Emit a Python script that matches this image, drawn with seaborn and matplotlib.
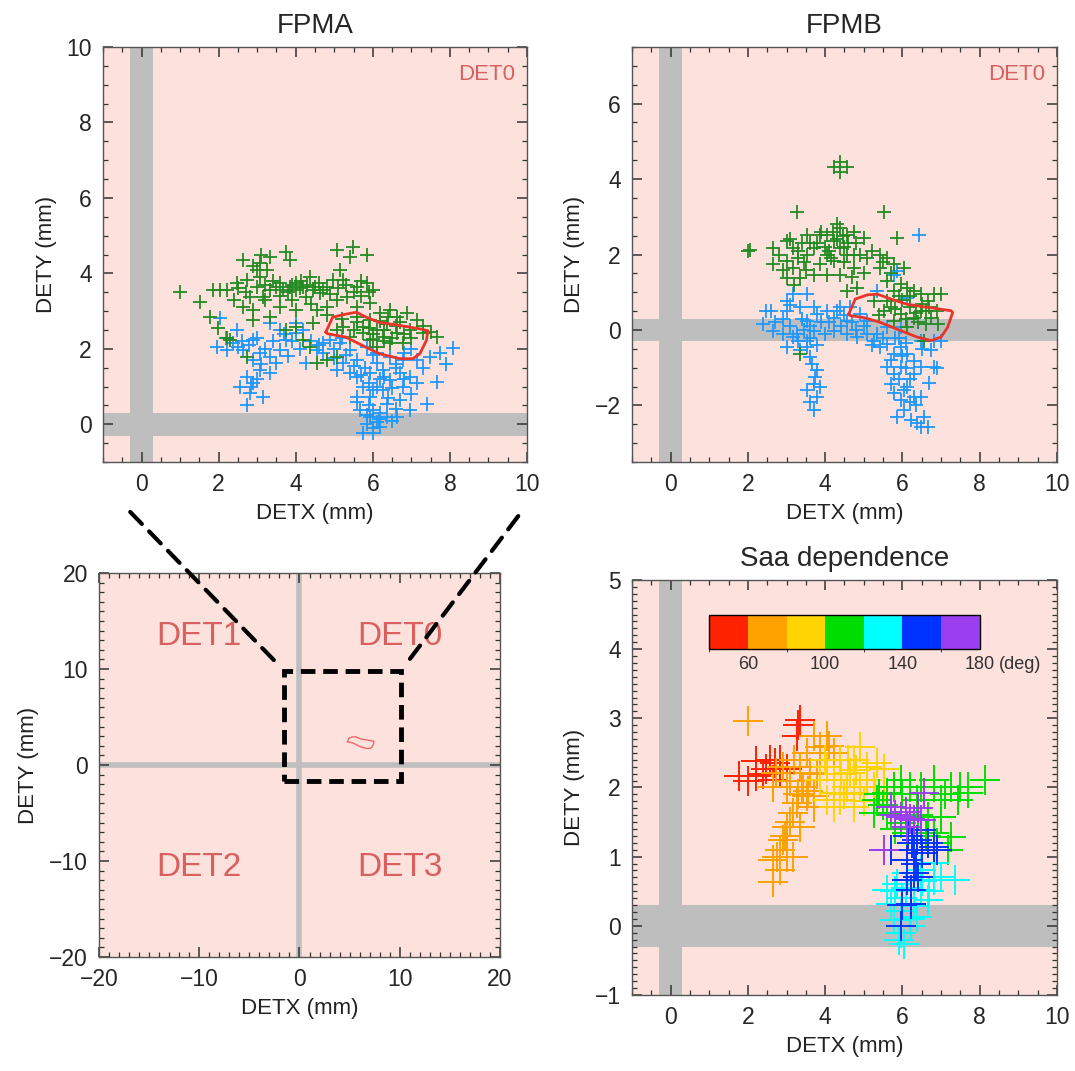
import numpy as np
import pandas as pd
import matplotlib.pyplot as plt
import seaborn as sns
from matplotlib.patches import Rectangle, ConnectionPatch
from matplotlib.colors import ListedColormap, BoundaryNorm
from matplotlib.cm import ScalarMappable
from matplotlib.ticker import MultipleLocator

# ---- data ----
# FPMA, DETX/DETY in mm
fpma_green = [
    (1.00, 3.51), (1.52, 3.25), (1.78, 2.85), (1.99, 2.54), (2.21, 2.28), (1.86, 3.56),
    (2.04, 3.56), (2.21, 3.56), (2.64, 4.35), (3.07, 4.27), (3.33, 4.44), (3.76, 4.57),
    (3.85, 4.35), (3.25, 4.09), (3.07, 3.91), (2.99, 3.65), (2.81, 3.38), (2.64, 3.12),
    (2.90, 3.03), (3.16, 3.38), (3.33, 3.56), (3.50, 3.65), (3.68, 3.56), (3.85, 3.65),
    (4.02, 3.56), (4.20, 3.65), (4.37, 3.91), (4.46, 3.56), (4.28, 3.38), (4.63, 3.47),
    (4.80, 3.65), (4.97, 3.82), (5.15, 4.09), (5.06, 4.62), (5.49, 4.71), (5.84, 4.49),
    (5.41, 4.44), (5.23, 3.82), (5.58, 3.65), (5.84, 3.74), (6.01, 3.56), (5.32, 3.38),
    (5.06, 3.29), (4.80, 3.12), (4.54, 3.03), (4.02, 3.03), (3.59, 3.12), (3.33, 2.85),
    (2.90, 2.76), (2.47, 3.74), (2.73, 3.82), (5.58, 3.12), (5.93, 3.21), (3.90, 3.70),
    (4.10, 3.60), (3.60, 3.40), (4.60, 3.75), (5.70, 3.40), (2.50, 3.60), (3.00, 4.10),
    (5.58, 2.85), (5.93, 2.76), (6.19, 2.94), (6.45, 3.03), (6.62, 2.85), (6.88, 2.94),
    (7.14, 2.76), (6.36, 2.67), (6.10, 2.50), (5.75, 2.41), (5.41, 2.32), (5.93, 2.23),
    (6.27, 2.32), (6.62, 2.41), (6.96, 2.50), (7.31, 2.41), (7.66, 2.32), (6.45, 2.15),
    (6.79, 2.15), (6.10, 2.06), (5.75, 2.59), (5.23, 2.59), (5.06, 2.50), (6.30, 2.50),
    (6.70, 2.70), (6.00, 2.40), (6.50, 2.30), (4.54, 1.62), (4.80, 1.70), (5.06, 1.79),
    (4.37, 2.06), (4.20, 2.23), (2.73, 1.79), (2.29, 2.23), (4.02, 2.59), (4.46, 2.68),
    (3.76, 2.50), (3.20, 3.70), (3.40, 3.80), (3.60, 3.75), (3.80, 3.50), (4.00, 3.75),
    (4.15, 3.80), (4.30, 3.70), (4.50, 3.65), (4.70, 3.55), (4.90, 3.45), (5.10, 3.60),
    (5.30, 3.70), (5.50, 3.50), (5.70, 3.80), (5.90, 3.50), (3.10, 4.50), (2.90, 4.20),
    (3.20, 3.30), (2.70, 3.50), (2.40, 3.30), (5.60, 2.70), (5.90, 2.55), (6.20, 2.75),
    (6.40, 2.85), (6.60, 2.60), (6.80, 2.40), (7.00, 2.30), (6.30, 2.20), (6.00, 2.25),
    (5.50, 2.50), (7.30, 2.60), (7.50, 2.45), (5.20, 2.80), (4.80, 2.90), (4.40, 3.20),
    (3.90, 3.30),
]
fpma_blue = [
    (2.04, 2.81), (1.95, 2.06), (2.38, 2.15), (2.64, 1.97), (2.90, 2.23), (3.07, 1.88),
    (3.33, 1.79), (3.59, 1.97), (3.76, 2.23), (4.02, 2.41), (4.20, 2.50), (3.59, 2.50),
    (3.33, 2.68), (4.02, 2.68), (2.90, 1.70), (3.07, 1.44), (2.90, 1.09), (2.81, 0.82),
    (2.73, 0.51), (3.16, 0.73), (3.33, 1.35), (3.50, 1.62), (4.28, 1.62), (4.54, 1.97),
    (4.72, 2.15), (4.89, 2.23), (5.15, 2.15), (5.41, 1.97), (5.58, 1.70), (5.23, 1.62),
    (5.06, 1.44), (5.58, 1.26), (5.75, 1.00), (5.93, 1.35), (6.10, 1.62), (6.27, 1.44),
    (6.45, 1.17), (6.71, 1.35), (6.96, 1.26), (7.14, 1.09), (6.79, 1.00), (6.27, 0.91),
    (5.93, 0.73), (5.67, 0.38), (6.01, 0.38), (6.36, 0.55), (6.71, 0.64), (6.96, 0.38),
    (7.40, 0.55), (7.66, 1.13), (8.09, 2.01), (7.74, 1.88), (7.48, 1.79), (7.14, 1.70),
    (6.79, 1.70), (6.45, 1.79), (5.84, 0.02), (6.01, -0.24), (6.19, -0.06), (5.75, -0.24),
    (6.36, 0.20), (5.93, 0.20), (6.62, 0.20), (5.58, 0.73), (5.41, 1.35), (5.84, 2.06),
    (6.10, 1.88), (2.47, 2.50), (2.21, 1.97), (2.73, 1.26), (2.55, 1.00), (4.60, 2.10),
    (5.00, 2.00), (6.20, 1.20), (6.60, 1.50), (6.00, 0.90), (6.40, 0.70), (5.80, 1.50),
    (3.80, 1.80), (2.60, 2.20), (6.80, 1.90), (7.00, 2.00), (6.10, 0.05), (2.20, 2.30),
    (2.50, 2.05), (2.80, 2.10), (3.00, 2.30), (3.20, 2.00), (3.40, 2.20), (3.70, 2.40),
    (3.90, 2.20), (4.10, 2.00), (4.40, 2.20), (4.70, 1.90), (5.00, 1.75), (5.30, 1.85),
    (5.50, 1.55), (5.70, 1.30), (5.90, 1.10), (6.10, 1.00), (6.30, 1.25), (6.50, 0.95),
    (6.80, 1.20), (7.00, 0.80), (6.60, 0.40), (6.20, 0.30), (5.90, 0.50), (5.60, 0.60),
    (6.00, -0.10), (5.85, 0.25), (6.15, 0.15), (6.50, 0.10), (3.00, 1.20), (2.85, 1.00),
    (3.10, 1.60), (7.30, 1.50), (7.90, 1.60), (6.60, 1.60), (6.00, 1.85), (5.20, 2.30),
]
fpma_contour_x = [4.78, 4.96, 5.30, 5.57, 5.83, 6.17, 6.70, 7.22, 7.43, 7.39, 7.22,
                  7.04, 6.70, 6.17, 5.83, 5.30, 4.83, 4.78]
fpma_contour_y = [2.44, 2.84, 2.92, 2.97, 2.84, 2.70, 2.62, 2.53, 2.48, 2.22, 1.87,
                  1.74, 1.74, 1.87, 2.04, 2.31, 2.40, 2.44]

# FPMB
fpmb_green = [
    (2.00, 2.09), (2.05, 2.12), (3.26, 3.14), (4.22, 4.32), (4.57, 4.32), (4.39, 4.46),
    (4.39, 4.19), (5.52, 3.14), (5.87, 2.44), (2.65, 2.18), (3.00, 2.35), (3.17, 2.18),
    (3.00, 1.82), (3.17, 1.65), (3.35, 1.39), (3.00, 1.39), (2.65, 1.74), (3.52, 2.00),
    (3.70, 2.18), (3.52, 2.53), (3.87, 2.53), (4.04, 2.53), (4.22, 2.35), (4.39, 2.70),
    (4.57, 2.53), (4.74, 2.61), (5.00, 2.44), (4.39, 2.18), (4.57, 2.00), (4.22, 1.82),
    (4.04, 2.00), (3.87, 1.74), (3.70, 1.47), (4.04, 1.47), (4.39, 1.47), (4.74, 1.65),
    (4.74, 2.00), (5.09, 1.91), (5.43, 2.00), (5.61, 1.91), (5.78, 1.74), (6.04, 1.65),
    (5.43, 1.65), (5.61, 1.30), (5.78, 1.04), (5.96, 1.21), (6.13, 1.12), (6.30, 1.04),
    (6.48, 0.95), (6.83, 0.95), (7.00, 0.95), (6.65, 0.77), (6.48, 0.51), (6.74, 0.33),
    (6.91, 0.16), (6.30, 0.33), (5.96, 0.42), (5.70, 0.60), (5.52, 0.51), (5.78, 0.25),
    (6.13, 0.07), (6.57, -0.28), (5.61, 0.77), (5.26, 0.77), (4.83, 1.12), (4.57, 1.04),
    (3.35, -0.63), (3.40, 2.30), (4.30, 2.40), (4.50, 2.20), (3.80, 2.30), (4.10, 2.10),
    (6.20, 0.60), (6.00, 0.80), (6.60, 0.50), (6.40, 0.20), (3.30, 1.90), (4.20, 2.60),
    (3.10, 2.40), (3.30, 2.10), (3.45, 1.80), (3.60, 2.30), (3.90, 2.60), (4.00, 2.20),
    (4.15, 1.90), (4.30, 2.80), (4.45, 2.50), (4.60, 2.30), (4.80, 2.30), (4.90, 2.00),
    (5.20, 2.10), (5.50, 1.80), (5.70, 1.50), (3.20, 1.20), (3.50, 1.60), (2.80, 2.00),
    (2.90, 1.60), (4.50, 1.80), (5.90, 0.90), (6.20, 0.90), (6.50, 0.70), (6.70, 0.60),
    (6.90, 0.50), (6.10, 0.30), (6.35, 0.45), (5.80, 0.55), (6.60, 0.15), (5.40, 0.40),
    (4.70, 1.40), (5.00, 1.50),
]
fpmb_blue = [
    (6.43, 2.53), (5.78, 1.47), (5.87, 1.56), (3.00, 0.77), (3.17, 0.95), (3.52, 0.95),
    (3.35, 0.60), (3.00, 0.51), (2.48, 0.51), (2.39, 0.16), (2.65, -0.02), (2.91, -0.11),
    (3.17, -0.19), (3.00, -0.46), (3.35, -0.54), (3.52, -0.28), (3.70, -0.02), (3.52, 0.25),
    (3.78, 0.42), (4.04, 0.51), (4.22, 0.33), (4.39, 0.60), (4.57, 0.25), (4.22, -0.02),
    (4.57, -0.11), (4.83, -0.19), (5.09, -0.11), (5.26, -0.28), (5.43, -0.46), (5.61, -0.37),
    (5.78, -0.63), (5.96, -0.46), (6.13, -0.63), (6.30, -0.81), (6.48, -0.98), (6.83, -0.98),
    (6.74, -0.54), (7.00, -0.28), (6.30, -1.16), (5.96, -0.98), (5.78, -1.16), (5.61, -0.98),
    (5.70, -1.42), (5.78, -1.68), (5.96, -1.86), (6.13, -1.51), (6.30, -1.77), (6.48, -1.77),
    (6.04, -2.12), (6.22, -2.39), (6.39, -2.47), (6.65, -2.56), (6.48, -2.56), (3.52, -0.46),
    (3.61, -0.72), (3.78, -1.07), (3.70, -1.42), (3.87, -1.51), (3.78, -1.77), (3.52, -1.60),
    (3.70, -2.12), (3.26, -0.11), (5.35, -0.11), (5.96, 0.07), (5.61, 0.07), (4.91, 0.42),
    (5.09, 0.25), (4.65, 0.60), (6.13, 0.86), (6.83, -0.28), (6.48, -0.28), (5.35, 1.04),
    (4.40, 0.10), (4.80, 0.00), (3.90, 0.20), (5.80, -0.20), (6.00, -0.70), (6.20, -1.30),
    (3.60, 0.10), (4.00, -0.10), (6.90, -1.00), (2.70, 0.20), (2.90, 0.30), (3.10, 0.10),
    (3.30, -0.30), (3.45, 0.00), (3.60, -0.20), (3.80, -0.40), (3.70, 0.60), (4.10, 0.20),
    (4.30, 0.50), (4.50, 0.40), (4.70, 0.20), (5.00, 0.10), (5.20, -0.40), (5.50, -0.20),
    (5.70, -0.80), (5.90, -0.20), (6.10, -1.00), (6.05, -1.60), (5.90, -1.30), (6.35, -2.00),
    (6.20, -1.90), (5.85, -2.30), (6.55, -2.30), (6.70, -1.40), (6.50, -0.50), (3.65, -0.90),
    (3.75, -1.25), (3.60, -1.90), (3.40, 0.30), (3.10, 0.65), (2.60, 0.50), (6.10, -0.35),
]
fpmb_contour_x = [4.61, 4.78, 5.09, 5.35, 5.70, 6.13, 6.65, 7.26, 7.30, 7.17, 7.00,
                  6.74, 6.39, 5.96, 5.43, 5.00, 4.65, 4.61]
fpmb_contour_y = [0.42, 0.82, 0.93, 0.95, 0.82, 0.68, 0.60, 0.51, 0.46, 0.07, -0.19,
                  -0.28, -0.19, -0.02, 0.20, 0.33, 0.38, 0.42]

# Saa dependence, grouped by Saa angle bin (deg)
saa_bin_edges = [40, 60, 80, 100, 120, 140, 160, 180]
saa_colors = ['#ff2200', '#ffa200', '#ffd400', '#00dd00', '#00ffff', '#0033ff', '#9b3ef0']
saa_tick_values = [60, 100, 140, 180]
saa_groups = {
    50: [(3.35, 2.98), (3.26, 2.74), (2.22, 2.38), (2.57, 2.40), (2.83, 2.40), (3.00, 2.26),
         (1.78, 2.16), (2.22, 2.16), (2.48, 2.26), (2.83, 2.21), (2.65, 2.11), (2.40, 2.20),
         (2.70, 2.35), (3.30, 2.90), (2.00, 2.10)],
    70: [(2.00, 2.96), (3.70, 2.74), (3.87, 2.59), (4.04, 2.74), (3.52, 2.50), (3.35, 2.30),
         (3.61, 2.21), (3.43, 2.01), (3.52, 1.87), (3.26, 1.77), (3.17, 1.63), (3.00, 1.43),
         (2.91, 1.24), (2.83, 1.10), (2.65, 0.95), (3.00, 1.00), (2.65, 0.64), (3.70, 1.87),
         (3.00, 2.01), (2.74, 2.21), (4.22, 2.50), (3.87, 2.40), (3.70, 1.72), (3.35, 1.43),
         (2.65, 2.01), (3.17, 1.00), (2.83, 0.80), (3.10, 2.10), (3.40, 2.00), (3.55, 1.95),
         (3.30, 1.90), (3.10, 1.50), (2.95, 1.30), (2.75, 1.00), (3.20, 2.40), (2.90, 2.30),
         (3.80, 2.20), (4.10, 2.60)],
    90: [(4.91, 2.59), (4.74, 2.40), (4.39, 2.40), (4.04, 2.30), (4.22, 2.11), (4.65, 2.21),
         (5.09, 2.30), (5.35, 2.35), (5.52, 2.26), (5.09, 2.11), (4.74, 1.92), (4.39, 1.82),
         (4.22, 1.72), (4.04, 1.82), (5.26, 2.01), (5.52, 2.01), (4.74, 1.72), (4.57, 2.01),
         (4.22, 1.92), (3.87, 2.11), (4.40, 2.20), (4.60, 2.40), (4.90, 2.00), (5.00, 1.80),
         (5.30, 1.90), (4.50, 1.90), (4.00, 2.40), (4.80, 2.25)],
    110: [(5.61, 1.92), (5.35, 1.82), (5.26, 1.63), (5.61, 1.63), (5.78, 2.01), (5.96, 2.11),
          (6.48, 2.01), (6.83, 2.01), (7.26, 2.01), (7.70, 2.01), (8.13, 2.11), (7.70, 1.92),
          (6.83, 2.11), (7.26, 1.29), (7.00, 1.58), (6.83, 1.34), (7.17, 1.10), (5.96, 1.48),
          (6.13, 1.34), (6.39, 1.82), (7.43, 1.82), (7.00, 1.82), (6.65, 1.58), (6.83, 1.10),
          (5.50, 1.75), (5.70, 1.60), (5.80, 1.40), (6.00, 1.90), (6.20, 2.00), (6.60, 1.30),
          (6.90, 1.20), (7.10, 1.90), (7.50, 2.00), (6.40, 1.60), (5.40, 1.90)],
    130: [(5.61, 0.52), (5.87, 0.61), (6.13, 0.76), (6.48, 0.81), (6.83, 0.66), (7.35, 0.66),
          (5.70, 0.32), (5.78, 0.08), (5.96, -0.11), (6.04, -0.26), (6.22, -0.01), (6.48, 0.52),
          (6.65, 0.37), (6.30, 0.28), (6.83, 0.91), (5.96, 0.22), (6.39, 0.13), (6.00, 0.40),
          (6.20, 0.10), (6.50, 0.65), (6.10, 0.55), (5.90, -0.20), (6.70, 0.50), (7.00, 0.70),
          (5.80, 0.50)],
    150: [(6.30, 1.10), (6.39, 1.24), (6.13, 0.95), (6.30, 0.76), (6.22, 0.52), (6.22, 0.32),
          (5.96, -0.01), (6.65, 1.19), (6.83, 1.14), (5.70, 1.10), (6.13, 0.66), (6.48, 1.39),
          (6.35, 0.90), (6.25, 1.20), (6.50, 1.05), (6.40, 0.70), (6.00, 0.30), (6.90, 1.10),
          (6.15, 1.30)],
    170: [(5.70, 1.72), (5.96, 1.58), (6.30, 1.53), (6.57, 1.92), (6.48, 1.53), (5.52, 1.10),
          (6.13, 1.43), (6.40, 1.70), (6.20, 1.55), (5.80, 1.60), (6.10, 1.65)],
}
# colour bar placed inside the Saa panel (data coords: x0, y0, width, height)
saa_bar_box = (1.0, 4.0, 7.0, 0.5)

# full focal plane view: zoomed region and detector quadrant labels
zoom_box = (-1.5, -1.7, 11.6, 11.5)
det_labels = ['DET0', 'DET1', 'DET2', 'DET3']
det_label_x = [10, -10, -10, 10]
det_label_y = [13.4, 13.4, -10.7, -10.7]

GAP = 0.3
PINK = '#fde1dc'
GRAY = '#bebebe'
DETRED = '#d8615f'
GREEN = '#228b22'
BLUE = '#1e98ff'

sns.set_style('ticks')
plt.rcParams['font.family'] = ['Liberation Sans', 'DejaVu Sans']
plt.rcParams['axes.edgecolor'] = '#555555'
plt.rcParams['axes.linewidth'] = 1.0


def style_axis(ax, xlim, ylim, xmaj, xmin, ymaj, ymin):
    ax.set_facecolor(PINK)
    ax.set_axisbelow(False)
    ax.set_xlim(*xlim)
    ax.set_ylim(*ylim)
    ax.xaxis.set_major_locator(MultipleLocator(xmaj))
    ax.xaxis.set_minor_locator(MultipleLocator(xmin))
    ax.yaxis.set_major_locator(MultipleLocator(ymaj))
    ax.yaxis.set_minor_locator(MultipleLocator(ymin))
    ax.tick_params(which='both', direction='in', top=True, right=True,
                   bottom=True, left=True, color='#333333')
    ax.tick_params(which='major', length=7, width=1.1, labelsize=16.5, pad=8)
    ax.tick_params(which='minor', length=3.5, width=0.9)
    ax.set_xlabel('DETX (mm)', fontsize=16, labelpad=5, color='#222222')
    ax.set_ylabel('DETY (mm)', fontsize=16, labelpad=7, color='#222222')
    for s in ax.spines.values():
        s.set_zorder(5)


def gaps(ax):
    ax.axvspan(-GAP, GAP, color=GRAY, lw=0, zorder=1)
    ax.axhspan(-GAP, GAP, color=GRAY, lw=0, zorder=1)


def crosses(ax, pts, color, size, lw=1.3):
    df = pd.DataFrame(pts, columns=['x', 'y'])
    sns.scatterplot(data=df, x='x', y='y', ax=ax, marker='+', color=color,
                    s=size ** 2, linewidth=lw, zorder=2, legend=False)


fig = plt.figure(figsize=(10.75, 10.71), dpi=100)
ax_a = fig.add_axes([0.0958, 0.5686, 0.3944, 0.3875])
ax_b = fig.add_axes([0.5879, 0.5686, 0.3953, 0.3875])
ax_f = fig.add_axes([0.0921, 0.1064, 0.3730, 0.3585])
ax_s = fig.add_axes([0.5879, 0.0710, 0.3953, 0.3875])

# FPMA
gaps(ax_a)
crosses(ax_a, fpma_blue, BLUE, 10.5)
crosses(ax_a, fpma_green, GREEN, 10.5)
ax_a.plot(fpma_contour_x, fpma_contour_y, color='#e8352b', lw=2, zorder=3)
style_axis(ax_a, (-1, 10), (-1, 10), 2, 0.5, 2, 0.5)
ax_a.set_title('FPMA', fontsize=20, pad=10)
ax_a.text(0.972, 0.933, 'DET0', transform=ax_a.transAxes, ha='right', va='center',
          color=DETRED, fontsize=16)

# FPMB
gaps(ax_b)
crosses(ax_b, fpmb_blue, BLUE, 10.5)
crosses(ax_b, fpmb_green, GREEN, 10.5)
ax_b.plot(fpmb_contour_x, fpmb_contour_y, color='#e8352b', lw=2, zorder=3)
style_axis(ax_b, (-1, 10), (-3.5, 7.5), 2, 0.5, 2, 0.5)
ax_b.set_title('FPMB', fontsize=20, pad=10)
ax_b.text(0.972, 0.933, 'DET0', transform=ax_b.transAxes, ha='right', va='center',
          color=DETRED, fontsize=16)

# full focal plane
ax_f.axvline(0, color=GRAY, lw=4, zorder=1)
ax_f.axhline(0, color=GRAY, lw=4, zorder=1)
ax_f.plot(fpma_contour_x, fpma_contour_y, color='#f06a6a', lw=1, zorder=3)
for lab, lx, ly in zip(det_labels, det_label_x, det_label_y):
    ax_f.text(lx, ly, lab, ha='center', va='center', color=DETRED, fontsize=24, zorder=2)
ax_f.add_patch(Rectangle(zoom_box[:2], zoom_box[2], zoom_box[3], fill=False,
                         ec='black', lw=3.5, ls=(0, (3, 1.6)), zorder=4))
style_axis(ax_f, (-20, 20), (-20, 20), 10, 1, 10, 1)

# dashed connectors from zoom box to the FPMA panel
x0, y0, w, h = zoom_box
for corner, target in [((x0, y0 + h), (0.064, -0.12)), ((x0 + w, y0 + h), (0.99, -0.116))]:
    con = ConnectionPatch(xyA=corner, coordsA='data', axesA=ax_f,
                          xyB=target, coordsB='axes fraction', axesB=ax_a,
                          color='black', lw=3, ls=(0, (4, 2.5)), shrinkA=11, shrinkB=0,
                          zorder=10)
    fig.add_artist(con)

# Saa dependence
gaps(ax_s)
for saa, pts in saa_groups.items():
    idx = np.digitize(saa, saa_bin_edges) - 1
    crosses(ax_s, pts, saa_colors[idx], 22, lw=1.4)
style_axis(ax_s, (-1, 10), (-1, 5), 2, 0.5, 1, 0.1)
ax_s.set_title('Saa dependence', fontsize=20, pad=10)

cax = ax_s.inset_axes(saa_bar_box, transform=ax_s.transData)
cmap = ListedColormap(saa_colors)
norm = BoundaryNorm(saa_bin_edges, cmap.N)
cb = fig.colorbar(ScalarMappable(norm=norm, cmap=cmap), cax=cax, orientation='horizontal',
                  ticks=saa_tick_values)
cb.outline.set_edgecolor('black')
cb.outline.set_linewidth(1)
cax.tick_params(length=0, labelsize=13, pad=5, colors='#333333')
cax.annotate('(deg)', xy=(1, 0), xycoords='axes fraction', xytext=(14, -5),
             textcoords='offset points', ha='left', va='top', fontsize=13, color='#333333')

fig.savefig('out.png', dpi=100)
